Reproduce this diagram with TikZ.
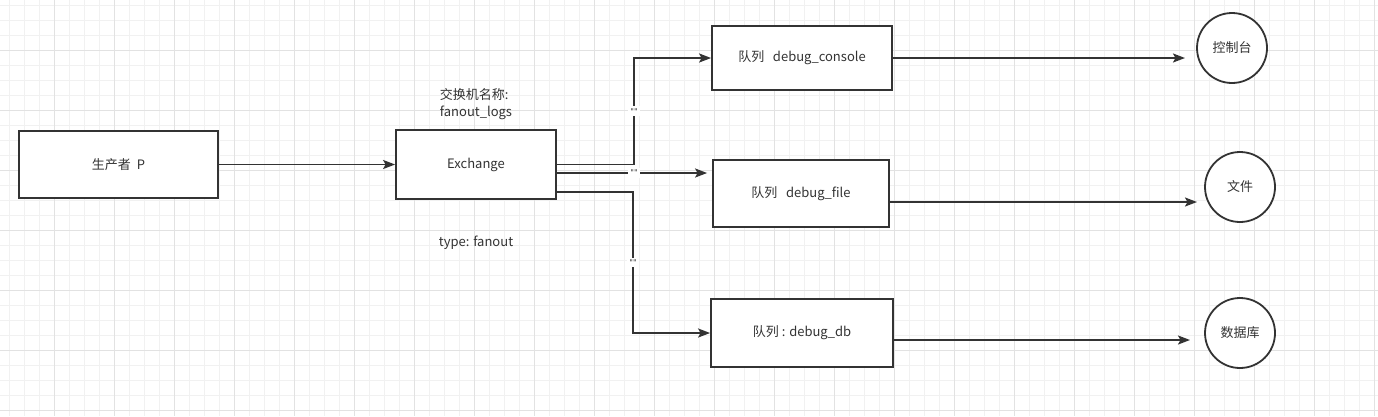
\documentclass[tikz,border=0pt]{standalone}
\usepackage{fontspec}
\setmainfont{Noto Sans CJK SC}
\newfontfamily\quotefont{DejaVu Sans}
\usetikzlibrary{arrows.meta}

\definecolor{ink}{HTML}{333333}
\definecolor{txt}{HTML}{333333}
\definecolor{gridminor}{HTML}{F1F1F1}
\definecolor{gridmajor}{HTML}{E2E2E2}

\tikzset{
  box/.style={draw=ink, line width=1.8pt, fill=white, text=txt, font=\fontsize{13}{15}\selectfont, inner sep=0pt},
  sink/.style={draw=ink, line width=1.8pt, fill=white, circle, minimum size=70pt, text=txt, font=\fontsize{13}{15}\selectfont, inner sep=0pt},
  arr/.style={draw=ink, line width=1.8pt, -{Stealth[length=12pt,width=9pt,inset=2.5pt]}},
  qlabel/.style={fill=white, text=ink, font=\quotefont\fontsize{8}{9}\selectfont, inner sep=2pt},
  note/.style={text=txt, font=\fontsize{13}{16.5}\selectfont, inner sep=0pt}
}

\begin{document}
\begin{tikzpicture}[x=1pt,y=-1pt]
  \useasboundingbox (0,0) rectangle (1378,416);
  \fill[white] (0,0) rectangle (1378,416);

  % background grid
  \foreach \x in {9,24,...,1377}
    {\draw[gridminor, line width=1pt] (\x,0) -- (\x,416);}
  \foreach \y in {5,20,...,415}
    {\draw[gridminor, line width=1pt] (0,\y) -- (1378,\y);}
  \foreach \x in {54,114,...,1377}
    {\draw[gridmajor, line width=1pt] (\x,0) -- (\x,416);}
  \foreach \y in {50,110,...,415}
    {\draw[gridmajor, line width=1pt] (0,\y) -- (1378,\y);}

  % producer and exchange
  \node[box, minimum width=199pt, minimum height=67pt] (prod) at (118.5,164.5) {生产者\ \ P};
  \node[box, minimum width=160pt, minimum height=69pt] (ex) at (476,164.5) {Exchange};
  \node[note, align=left] (exname) at (476,104) {交换机名称:\\fanout\_logs};
  \node[note] (extype) at (476,243) {type: fanout};

  % queues
  \node[box, minimum width=180pt, minimum height=64pt] (qcon) at (802,58) {队列\ \ \ debug\_console};
  \node[box, minimum width=176pt, minimum height=67pt] (qfile) at (801,193.5) {队列\ \ \ debug\_file};
  \node[box, minimum width=182pt, minimum height=68pt] (qdb) at (802,333) {队列 : debug\_db};

  % consumers
  \node[sink] (con) at (1232,48) {控制台};
  \node[sink] (file) at (1240,187) {文件};
  \node[sink] (db) at (1240,333) {数据库};

  % bend points and free ends
  \coordinate (b1) at (634,0);
  \coordinate (b3) at (633,0);
  \coordinate (e2) at (556,173);
  \coordinate (e3) at (556,192);
  \coordinate (conin) at (1185,58);
  \coordinate (filein) at (1197,202);
  \coordinate (dbin) at (1190,340);

  % connectors
  \draw[arr] (prod.east) -- (ex.west);
  \draw[arr] (ex.east) -- (ex.east -| b1) -- node[qlabel]{""} (qcon.west -| b1) -- (qcon.west);
  \draw[arr, shorten >=5pt] (e2) -- node[qlabel]{""} (qfile.west |- e2);
  \draw[arr] (e3) -- (e3 -| b3) -- node[qlabel]{""} (qdb.west -| b3) -- (qdb.west);

  \draw[arr] (qcon.east |- conin) -- (conin);
  \draw[arr] (qfile.east |- filein) -- (filein);
  \draw[arr] (qdb.east |- dbin) -- (dbin);
\end{tikzpicture}
\end{document}
